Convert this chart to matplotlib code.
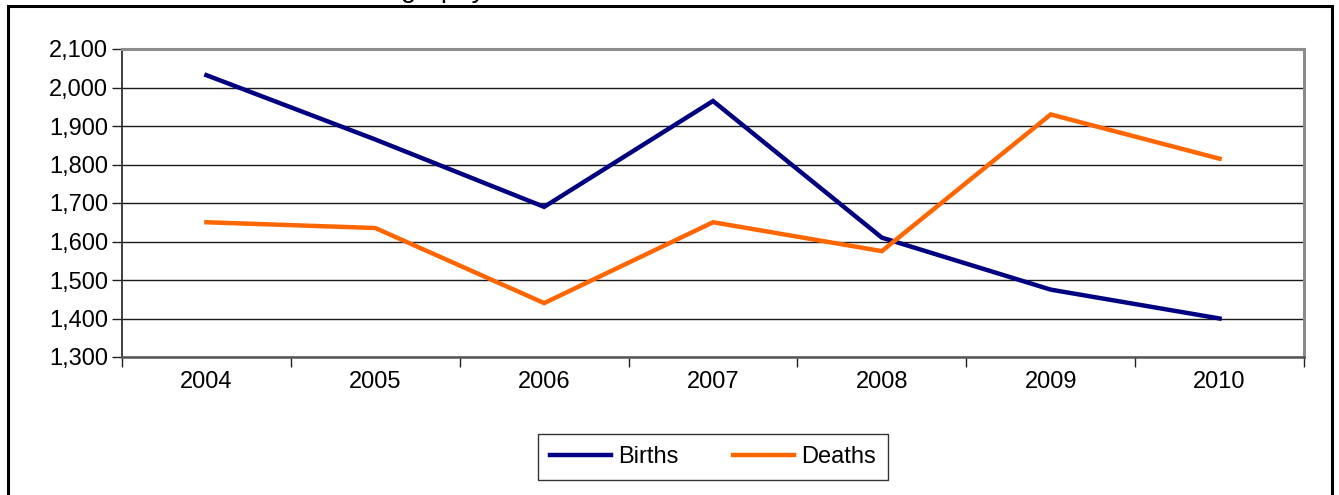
import matplotlib

matplotlib.use("Agg")
import matplotlib.pyplot as plt
from matplotlib.patches import Rectangle
from matplotlib.ticker import FuncFormatter, FixedLocator

plt.rcParams["font.family"] = ["Liberation Sans", "DejaVu Sans"]

# values
years = ["2004", "2005", "2006", "2007", "2008", "2009", "2010"]
births = [2032, 1865, 1690, 1965, 1610, 1475, 1400]
deaths = [1650, 1635, 1440, 1650, 1575, 1930, 1815]
y_ticks = [1300, 1400, 1500, 1600, 1700, 1800, 1900, 2000, 2100]

fig = plt.figure(figsize=(13.39, 4.95), dpi=100)
ax = fig.add_axes([122 / 1339, 1 - 357 / 495, 1182 / 1339, 308 / 495])

x = range(len(years))
ax.plot(x, births, color="#000080", lw=3.2, label="Births", solid_joinstyle="miter")
ax.plot(x, deaths, color="#FF6600", lw=3.2, label="Deaths", solid_joinstyle="miter")

ax.set_xlim(-0.5, len(years) - 0.5)
ax.set_ylim(y_ticks[0], y_ticks[-1])

# category labels centred, tick marks between categories (spreadsheet style)
ax.set_xticks(list(x))
ax.set_xticklabels(years, fontsize=17)
ax.tick_params(axis="x", which="major", length=0, pad=10)
ax.xaxis.set_minor_locator(FixedLocator([i - 0.5 for i in range(len(years) + 1)]))
ax.tick_params(axis="x", which="minor", length=7, width=1, color="#202020", direction="out")

ax.set_yticks(y_ticks)
ax.yaxis.set_major_formatter(FuncFormatter(lambda v, _: f"{int(v):,}"))
ax.tick_params(axis="y", length=7, width=1, color="#202020", direction="out",
               labelsize=17, pad=3)

ax.grid(axis="y", color="#1a1a1a", lw=1.0)
ax.set_axisbelow(True)

for side in ("top", "right"):
    ax.spines[side].set_color("#8c8c8c")
    ax.spines[side].set_linewidth(2.2)
ax.spines["left"].set_color("#303030")
ax.spines["left"].set_linewidth(1.3)
ax.spines["bottom"].set_color("#555555")
ax.spines["bottom"].set_linewidth(1.8)

leg = ax.legend(loc="center", bbox_to_anchor=(713 / 1339, 1 - 457 / 495),
                bbox_transform=fig.transFigure, ncol=2, fontsize=17,
                frameon=True, fancybox=False, handlelength=2.6,
                handletextpad=0.3, columnspacing=2.3, borderpad=0.5)
leg.get_frame().set_edgecolor("black")
leg.get_frame().set_linewidth(1.0)

# outer chart-area border, bottom edge runs off the picture
fig.patches.append(Rectangle((7.5 / 1339, -0.1), 1324.5 / 1339, 1.1 - 6 / 495,
                             transform=fig.transFigure, fill=False,
                             edgecolor="black", lw=2.2, clip_on=False))

# chart title, almost entirely cut off at the top edge of the picture
fig.text(328 / 1339, 1 + 3 / 495, "Demography", fontsize=20, ha="left",
         va="baseline")

fig.savefig("out.png", dpi=100)
